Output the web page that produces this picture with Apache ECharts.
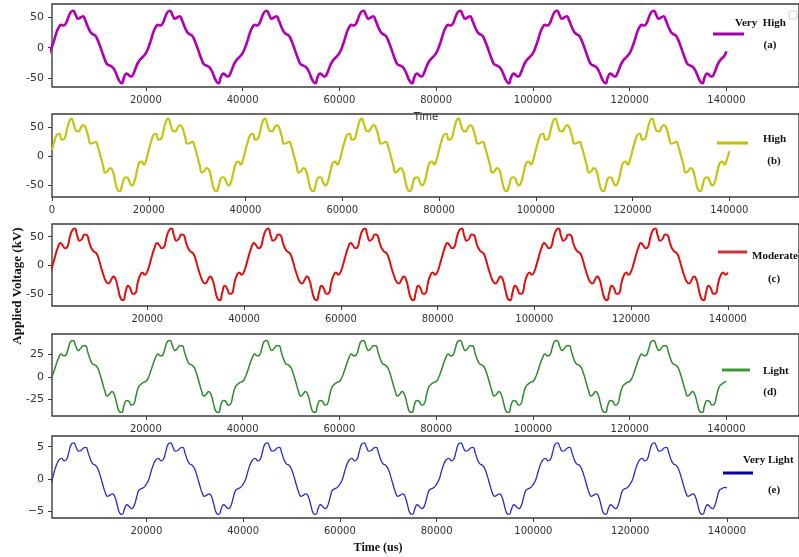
<!DOCTYPE html>
<html>
<head>
<meta charset="utf-8">
<script src="https://cdn.jsdelivr.net/npm/echarts@6/dist/echarts.min.js"></script>
<style>
html,body{margin:0;padding:0;background:#fff;}
#chart{width:799px;height:557px;}
</style>
</head>
<body>
<div id="chart"></div>
<script>
// Sample times (us)
const timeUs = [
0,500,1000,1500,2000,2500,3000,3500,4000,4500,5000,5500,6000,6500,7000,7500,8000,8500,9000,9500,10000,10500,11000,11500,12000,12500,13000,13500,14000,14500,15000,15500,16000,16500,17000,17500,18000,18500,19000,19500,
20000,20500,21000,21500,22000,22500,23000,23500,24000,24500,25000,25500,26000,26500,27000,27500,28000,28500,29000,29500,30000,30500,31000,31500,32000,32500,33000,33500,34000,34500,35000,35500,36000,36500,37000,37500,38000,38500,39000,39500,
40000,40500,41000,41500,42000,42500,43000,43500,44000,44500,45000,45500,46000,46500,47000,47500,48000,48500,49000,49500,50000,50500,51000,51500,52000,52500,53000,53500,54000,54500,55000,55500,56000,56500,57000,57500,58000,58500,59000,59500,
60000,60500,61000,61500,62000,62500,63000,63500,64000,64500,65000,65500,66000,66500,67000,67500,68000,68500,69000,69500,70000,70500,71000,71500,72000,72500,73000,73500,74000,74500,75000,75500,76000,76500,77000,77500,78000,78500,79000,79500,
80000,80500,81000,81500,82000,82500,83000,83500,84000,84500,85000,85500,86000,86500,87000,87500,88000,88500,89000,89500,90000,90500,91000,91500,92000,92500,93000,93500,94000,94500,95000,95500,96000,96500,97000,97500,98000,98500,99000,99500,
100000,100500,101000,101500,102000,102500,103000,103500,104000,104500,105000,105500,106000,106500,107000,107500,108000,108500,109000,109500,110000,110500,111000,111500,112000,112500,113000,113500,114000,114500,115000,115500,116000,116500,117000,117500,118000,118500,119000,119500,
120000,120500,121000,121500,122000,122500,123000,123500,124000,124500,125000,125500,126000,126500,127000,127500,128000,128500,129000,129500,130000,130500,131000,131500,132000,132500,133000,133500,134000,134500,135000,135500,136000,136500,137000,137500,138000,138500,139000,139500,
140000];

// Applied voltage (kV) per pollution level
const veryHigh = [
-9,0,11,24,33,37,36,40,50,58,60,53,47,49,51,44,34,26,22,20,13,3,-8,-19,-27,-29,-31,-36,-45,-54,-58,-48,-42,-45,-47,-41,-31,-23,-18,-14,
-9,0,11,24,33,37,36,40,50,58,60,53,47,49,51,44,34,26,22,20,13,3,-8,-19,-27,-29,-31,-36,-45,-54,-58,-48,-42,-45,-47,-41,-31,-23,-18,-14,
-9,0,11,24,33,37,36,40,50,58,60,53,47,49,51,44,34,26,22,20,13,3,-8,-19,-27,-29,-31,-36,-45,-54,-58,-48,-42,-45,-47,-41,-31,-23,-18,-14,
-9,0,11,24,33,37,36,40,50,58,60,53,47,49,51,44,34,26,22,20,13,3,-8,-19,-27,-29,-31,-36,-45,-54,-58,-48,-42,-45,-47,-41,-31,-23,-18,-14,
-9,0,11,24,33,37,36,40,50,58,60,53,47,49,51,44,34,26,22,20,13,3,-8,-19,-27,-29,-31,-36,-45,-54,-58,-48,-42,-45,-47,-41,-31,-23,-18,-14,
-9,0,11,24,33,37,36,40,50,58,60,53,47,49,51,44,34,26,22,20,13,3,-8,-19,-27,-29,-31,-36,-45,-54,-58,-48,-42,-45,-47,-41,-31,-23,-18,-14,
-9,0,11,24,33,37,36,40,50,58,60,53,47,49,51,44,34,26,22,20,13,3,-8,-19,-27,-29,-31,-36,-45,-54,-58,-48,-42,-45,-47,-41,-31,-23,-18,-14,
-6];
const high = [
10,25,36,38,28,29,42,58,64,54,43,42,49,53,47,33,21,22,24,15,0,-15,-29,-26,-21,-25,-42,-58,-61,-50,-38,-37,-45,-51,-45,-28,-13,-10,-15,-6,
10,25,36,38,28,29,42,58,64,54,43,42,49,53,47,33,21,22,24,15,0,-15,-29,-26,-21,-25,-42,-58,-61,-50,-38,-37,-45,-51,-45,-28,-13,-10,-15,-6,
10,25,36,38,28,29,42,58,64,54,43,42,49,53,47,33,21,22,24,15,0,-15,-29,-26,-21,-25,-42,-58,-61,-50,-38,-37,-45,-51,-45,-28,-13,-10,-15,-6,
10,25,36,38,28,29,42,58,64,54,43,42,49,53,47,33,21,22,24,15,0,-15,-29,-26,-21,-25,-42,-58,-61,-50,-38,-37,-45,-51,-45,-28,-13,-10,-15,-6,
10,25,36,38,28,29,42,58,64,54,43,42,49,53,47,33,21,22,24,15,0,-15,-29,-26,-21,-25,-42,-58,-61,-50,-38,-37,-45,-51,-45,-28,-13,-10,-15,-6,
10,25,36,38,28,29,42,58,64,54,43,42,49,53,47,33,21,22,24,15,0,-15,-29,-26,-21,-25,-42,-58,-61,-50,-38,-37,-45,-51,-45,-28,-13,-10,-15,-6,
10,25,36,38,28,29,42,58,64,54,43,42,49,53,47,33,21,22,24,15,0,-15,-29,-26,-21,-25,-42,-58,-61,-50,-38,-37,-45,-51,-45,-28,-13,-10,-15,-6,
8];
const moderate = [
-10,3,18,31,39,35,30,33,50,61,64,52,43,46,54,53,40,29,24,21,10,-5,-18,-28,-31,-25,-19,-25,-42,-57,-60,-46,-35,-40,-49,-48,-30,-17,-12,-16,
-10,3,18,31,39,35,30,33,50,61,64,52,43,46,54,53,40,29,24,21,10,-5,-18,-28,-31,-25,-19,-25,-42,-57,-60,-46,-35,-40,-49,-48,-30,-17,-12,-16,
-10,3,18,31,39,35,30,33,50,61,64,52,43,46,54,53,40,29,24,21,10,-5,-18,-28,-31,-25,-19,-25,-42,-57,-60,-46,-35,-40,-49,-48,-30,-17,-12,-16,
-10,3,18,31,39,35,30,33,50,61,64,52,43,46,54,53,40,29,24,21,10,-5,-18,-28,-31,-25,-19,-25,-42,-57,-60,-46,-35,-40,-49,-48,-30,-17,-12,-16,
-10,3,18,31,39,35,30,33,50,61,64,52,43,46,54,53,40,29,24,21,10,-5,-18,-28,-31,-25,-19,-25,-42,-57,-60,-46,-35,-40,-49,-48,-30,-17,-12,-16,
-10,3,18,31,39,35,30,33,50,61,64,52,43,46,54,53,40,29,24,21,10,-5,-18,-28,-31,-25,-19,-25,-42,-57,-60,-46,-35,-40,-49,-48,-30,-17,-12,-16,
-10,3,18,31,39,35,30,33,50,61,64,52,43,46,54,53,40,29,24,21,10,-5,-18,-28,-31,-25,-19,-25,-42,-57,-60,-46,-35,-40,-49,-48,-30,-17,-12,-16,
-12];
const light = [
-5,-1,6,14,21,25,23,24,32,39,40,34,29,31,34,34,27,19,14,13,10,3,-6,-15,-21,-19,-16,-20,-30,-38,-39,-31,-26,-27,-31,-30,-20,-11,-8,-6,
-5,-1,6,14,21,25,23,24,32,39,40,34,29,31,34,34,27,19,14,13,10,3,-6,-15,-21,-19,-16,-20,-30,-38,-39,-31,-26,-27,-31,-30,-20,-11,-8,-6,
-5,-1,6,14,21,25,23,24,32,39,40,34,29,31,34,34,27,19,14,13,10,3,-6,-15,-21,-19,-16,-20,-30,-38,-39,-31,-26,-27,-31,-30,-20,-11,-8,-6,
-5,-1,6,14,21,25,23,24,32,39,40,34,29,31,34,34,27,19,14,13,10,3,-6,-15,-21,-19,-16,-20,-30,-38,-39,-31,-26,-27,-31,-30,-20,-11,-8,-6,
-5,-1,6,14,21,25,23,24,32,39,40,34,29,31,34,34,27,19,14,13,10,3,-6,-15,-21,-19,-16,-20,-30,-38,-39,-31,-26,-27,-31,-30,-20,-11,-8,-6,
-5,-1,6,14,21,25,23,24,32,39,40,34,29,31,34,34,27,19,14,13,10,3,-6,-15,-21,-19,-16,-20,-30,-38,-39,-31,-26,-27,-31,-30,-20,-11,-8,-6,
-5,-1,6,14,21,25,23,24,32,39,40,34,29,31,34,34,27,19,14,13,10,3,-6,-15,-21,-19,-16,-20,-30,-38,-39,-31,-26,-27,-31,-30,-20,-11,-8,-6,
-5];
const veryLight = [
-0.8,-0.1,1.2,2.3,3.0,3.2,2.8,3.0,4.2,5.4,5.6,4.9,4.3,4.4,4.8,4.9,4.0,2.9,2.3,2.1,1.5,0.4,-0.9,-2.1,-2.7,-2.5,-2.3,-2.8,-4.1,-5.3,-5.5,-4.6,-4.0,-4.3,-4.6,-4.1,-2.8,-1.7,-1.5,-1.3,
-0.8,-0.1,1.2,2.3,3.0,3.2,2.8,3.0,4.2,5.4,5.6,4.9,4.3,4.4,4.8,4.9,4.0,2.9,2.3,2.1,1.5,0.4,-0.9,-2.1,-2.7,-2.5,-2.3,-2.8,-4.1,-5.3,-5.5,-4.6,-4.0,-4.3,-4.6,-4.1,-2.8,-1.7,-1.5,-1.3,
-0.8,-0.1,1.2,2.3,3.0,3.2,2.8,3.0,4.2,5.4,5.6,4.9,4.3,4.4,4.8,4.9,4.0,2.9,2.3,2.1,1.5,0.4,-0.9,-2.1,-2.7,-2.5,-2.3,-2.8,-4.1,-5.3,-5.5,-4.6,-4.0,-4.3,-4.6,-4.1,-2.8,-1.7,-1.5,-1.3,
-0.8,-0.1,1.2,2.3,3.0,3.2,2.8,3.0,4.2,5.4,5.6,4.9,4.3,4.4,4.8,4.9,4.0,2.9,2.3,2.1,1.5,0.4,-0.9,-2.1,-2.7,-2.5,-2.3,-2.8,-4.1,-5.3,-5.5,-4.6,-4.0,-4.3,-4.6,-4.1,-2.8,-1.7,-1.5,-1.3,
-0.8,-0.1,1.2,2.3,3.0,3.2,2.8,3.0,4.2,5.4,5.6,4.9,4.3,4.4,4.8,4.9,4.0,2.9,2.3,2.1,1.5,0.4,-0.9,-2.1,-2.7,-2.5,-2.3,-2.8,-4.1,-5.3,-5.5,-4.6,-4.0,-4.3,-4.6,-4.1,-2.8,-1.7,-1.5,-1.3,
-0.8,-0.1,1.2,2.3,3.0,3.2,2.8,3.0,4.2,5.4,5.6,4.9,4.3,4.4,4.8,4.9,4.0,2.9,2.3,2.1,1.5,0.4,-0.9,-2.1,-2.7,-2.5,-2.3,-2.8,-4.1,-5.3,-5.5,-4.6,-4.0,-4.3,-4.6,-4.1,-2.8,-1.7,-1.5,-1.3,
-0.8,-0.1,1.2,2.3,3.0,3.2,2.8,3.0,4.2,5.4,5.6,4.9,4.3,4.4,4.8,4.9,4.0,2.9,2.3,2.1,1.5,0.4,-0.9,-2.1,-2.7,-2.5,-2.3,-2.8,-4.1,-5.3,-5.5,-4.6,-4.0,-4.3,-4.6,-4.1,-2.8,-1.7,-1.5,-1.3,
-1.4];

// Tick labels
const xTicksWithZero = [0,20000,40000,60000,80000,100000,120000,140000];
const xTicks = [20000,40000,60000,80000,100000,120000,140000];
const yTicksBig = [-50,0,50];
const yTicksMid = [-25,0,25];
const yTicksSmall = [-5,0,5];

const legendNames = ['Very  High','High','Moderate','Light','Very Light'];
const panelTags = ['(a)','(b)','(c)','(d)','(e)'];

// Layout/style (not data)
const panels = [
  {vals: veryHigh,  color:'#b000b0', lw:2.6, top:4,   h:83, xmin:600, ymin:-64,  ymax:71,   yt:yTicksBig,   xt:xTicks},
  {vals: high,      color:'#c4c414', lw:2.2, top:114, h:83, xmin:0,   ymin:-71,  ymax:72,   yt:yTicksBig,   xt:xTicksWithZero},
  {vals: moderate,  color:'#e01010', lw:2.0, top:224, h:82, xmin:300, ymin:-70,  ymax:72,   yt:yTicksBig,   xt:xTicks},
  {vals: light,     color:'#2f8a2f', lw:1.5, top:334, h:82, xmin:600, ymin:-43,  ymax:47,   yt:yTicksMid,   xt:xTicks},
  {vals: veryLight, color:'#2a2ac8', lw:1.3, top:436, h:82, xmin:500, ymin:-6.05,ymax:6.65, yt:yTicksSmall, xt:xTicks}
];
const SPAN = 154400;
const axisGrey = '#3c3c3c';

const grid = [], xAxis = [], yAxis = [], series = [];
panels.forEach((p, i) => {
  grid.push({left:52, right:-2, top:p.top, height:p.h, show:true, borderColor:axisGrey, borderWidth:1.4, backgroundColor:'#fff'});
  xAxis.push({
    type:'value', gridIndex:i, min:p.xmin, max:p.xmin+SPAN, position:'bottom',
    axisLine:{show:false, onZero:false}, splitLine:{show:false},
    axisTick:{show:true, length:4, lineStyle:{color:axisGrey}, customValues:p.xt},
    axisLabel:{margin:8, customValues:p.xt, formatter:v=>String(v), fontFamily:'DejaVu Sans', fontSize:10, color:'#333'}
  });
  yAxis.push({
    type:'value', gridIndex:i, min:p.ymin, max:p.ymax, position:'left',
    axisLine:{show:false, onZero:false}, splitLine:{show:false},
    axisTick:{show:true, length:4, lineStyle:{color:axisGrey}, customValues:p.yt},
    axisLabel:{margin:8, customValues:p.yt, formatter:v=> (i===4 && v<0) ? ('\u2212'+Math.abs(v)) : String(v), fontFamily:'DejaVu Sans', fontSize:11, color:'#333'}
  });
  series.push({
    type:'line', xAxisIndex:i, yAxisIndex:i, showSymbol:false, smooth:0.55, clip:true,
    lineStyle:{color:p.color, width:p.lw}, data: timeUs.map((t,k)=>[t, p.vals[k]])
  });
});

const serif = 'bold 11px "Liberation Serif", "Times New Roman", serif';
const legendCfg = [
  {lx1:713, lx2:744, ly:34,  lc:'#a000a8', tx:735, ty:23,  px:770, py:45},
  {lx1:717, lx2:748, ly:143, lc:'#c0c000', tx:763, ty:139, px:774, py:161},
  {lx1:718, lx2:747, ly:252, lc:'#d03038', tx:752, ty:256, px:774, py:279},
  {lx1:722, lx2:750, ly:370, lc:'#3a9a3a', tx:763, ty:371, px:770, py:392},
  {lx1:723, lx2:753, ly:473, lc:'#0000a0', tx:743, ty:460, px:774, py:490}
];
const graphic = [];
legendCfg.forEach((g, i) => {
  graphic.push({type:'line', shape:{x1:g.lx1, y1:g.ly, x2:g.lx2, y2:g.ly}, style:{stroke:g.lc, lineWidth:3}, z:100});
  graphic.push({type:'text', x:g.tx, y:g.ty, style:{text:legendNames[i], font:serif, fill:'#111', textAlign:'left', textVerticalAlign:'middle'}, z:100});
  graphic.push({type:'text', x:g.px, y:g.py, style:{text:panelTags[i], font:serif, fill:'#111', textAlign:'center', textVerticalAlign:'middle'}, z:100});
});
graphic.push({type:'rect', shape:{x:789, y:11, width:8, height:8, r:2}, style:{fill:'none', stroke:'#cfcfcf', lineWidth:1}, z:100});
graphic.push({type:'text', x:426, y:117, style:{text:'Time', font:'10px "DejaVu Sans"', fill:'#333', textAlign:'center', textVerticalAlign:'middle'}, z:100});
graphic.push({type:'text', x:18, y:286, rotation:Math.PI/2, style:{text:'Applied Voltage (kV)', font:'bold 13px "Liberation Serif", serif', fill:'#111', textAlign:'center', textVerticalAlign:'middle'}, z:100});
graphic.push({type:'text', x:378, y:548, style:{text:'Time (us)', font:'bold 12px "Liberation Serif", serif', fill:'#111', textAlign:'center', textVerticalAlign:'middle'}, z:100});

const chart = echarts.init(document.getElementById('chart'), null, {renderer:'canvas'});
chart.setOption({animation:false, backgroundColor:'#fff', grid, xAxis, yAxis, series, graphic});
</script>
</body>
</html>
